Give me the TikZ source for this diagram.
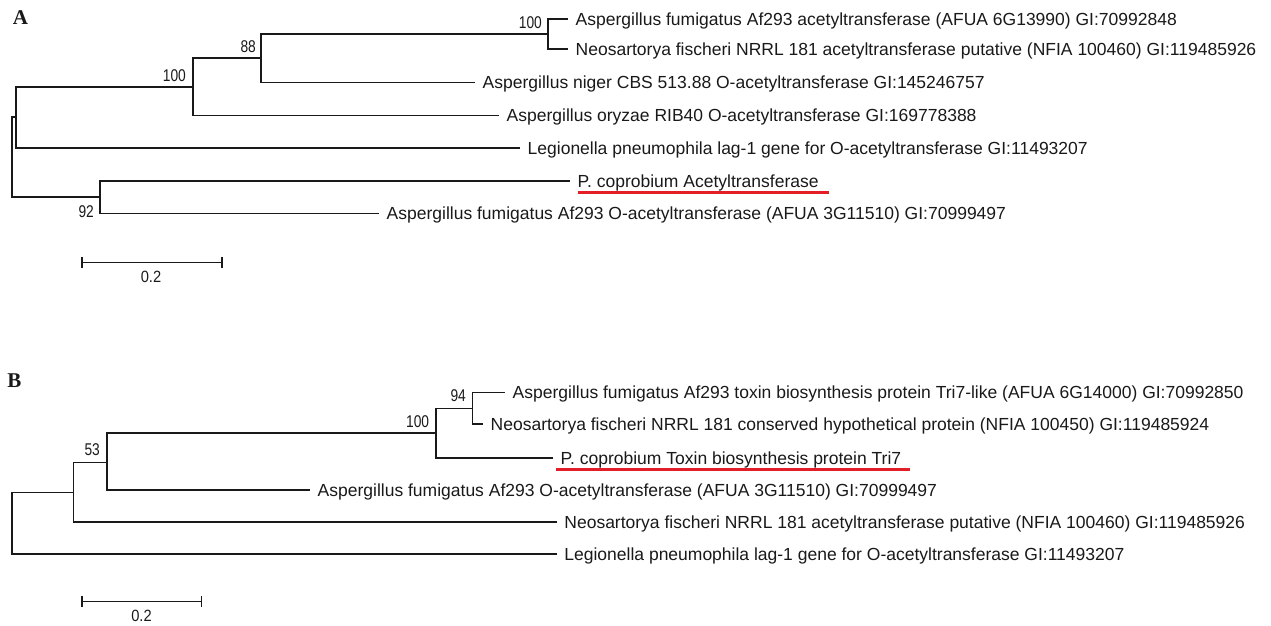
\documentclass[tikz,border=0pt]{standalone}
\usepackage{fontspec}
\setmainfont{Liberation Sans}
\newfontfamily\panelfont{Liberation Serif}
\usetikzlibrary{arrows.meta}
\definecolor{ulred}{RGB}{228,30,38}
\definecolor{ink}{RGB}{25,25,25}
\begin{document}
\begin{tikzpicture}[x=1pt,y=-1pt,
  br/.style={line width=1.5pt, draw=ink},
  leaf/.style={anchor=west, text=ink, font=\fontsize{17.5pt}{20pt}\selectfont, inner xsep=7.5pt, inner ysep=0pt, text height=12.6pt, text depth=0pt},
  boot/.style={anchor=base east, text=ink, font=\fontsize{17pt}{19pt}\selectfont, inner sep=0pt, xscale=0.81},
  panel/.style={text=ink, font=\panelfont\bfseries\fontsize{21pt}{24pt}\selectfont, inner sep=0pt},
  uline/.style={draw=ulred, line width=2.6pt},
  sbar/.style={line width=1.5pt, draw=ink, {Bar[width=11pt]}-{Bar[width=11pt]}},
  sblab/.style={text=ink, font=\fontsize{16.3pt}{18pt}\selectfont, inner sep=0pt, xscale=0.9}
]
\useasboundingbox (0,0) rectangle (1271,625);

% ---------------- Panel A ----------------
\node[panel] (pA) at (20.5,17.5) {A};

\coordinate (rA) at (12,157);
\coordinate (a1n) at (16,117);
\coordinate (a2n) at (193,87);
\coordinate (a3n) at (261,58);
\coordinate (a4n) at (548,34);
\coordinate (a5n) at (100,197);

\node[leaf] (lA1) at (568,19) {Aspergillus fumigatus Af293 acetyltransferase (AFUA 6G13990) GI:70992848};
\node[leaf] (lA2) at (568,49) {Neosartorya fischeri NRRL 181 acetyltransferase putative (NFIA 100460) GI:119485926};
\node[leaf] (lA3) at (475,82.5) {Aspergillus niger CBS 513.88 O-acetyltransferase GI:145246757};
\node[leaf] (lA4) at (499,115.5) {Aspergillus oryzae RIB40 O-acetyltransferase GI:169778388};
\node[leaf] (lA5) at (520,148) {Legionella pneumophila lag-1 gene for O-acetyltransferase GI:11493207};
\node[leaf] (lA6) at (570,181) {P. coprobium Acetyltransferase};
\node[leaf] (lA7) at (379,213.5) {Aspergillus fumigatus Af293 O-acetyltransferase (AFUA 3G11510) GI:70999497};

\draw[br] (rA) |- (a1n);
\draw[br] (rA) |- (a5n);
\draw[br] (a1n) |- (a2n);
\draw[br] (a1n) |- (lA5.west);
\draw[br] (a2n) |- (a3n);
\draw[br] (a2n) |- (lA4.west);
\draw[br] (a3n) |- (a4n);
\draw[br] (a3n) |- (lA3.west);
\draw[br] (a4n) |- (lA1.west);
\draw[br] (a4n) |- (lA2.west);
\draw[br] (a5n) |- (lA6.west);
\draw[br] (a5n) |- (lA7.west);

\node[boot] (bA4) at ([xshift=-6pt,yshift=5.5pt]a4n) {100};
\node[boot] (bA3) at ([xshift=-5pt,yshift=5.5pt]a3n) {88};
\node[boot] (bA2) at ([xshift=-7pt,yshift=5.5pt]a2n) {100};
\node[boot] (bA5) at ([xshift=-6pt,yshift=-20.5pt]a5n) {92};

\draw[uline] ([xshift=7.5pt,yshift=-11.7pt]lA6.west) -- ([xshift=3pt,yshift=-11.7pt]lA6.east);

\coordinate (sA1) at (81,262.3);
\coordinate (sA2) at (222.5,262.3);
\draw[sbar] (sA1) -- (sA2);
\node[sblab] (sAl) at (151,276.7) {0.2};

% ---------------- Panel B ----------------
\node[panel] (pB) at (14.5,381) {B};

\coordinate (rB) at (12,523.5);
\coordinate (b1n) at (73.5,492.7);
\coordinate (b2n) at (107,462.7);
\coordinate (b3n) at (436,433);
\coordinate (b4n) at (472.7,408.3);

\node[leaf] (lB1) at (505,392.5) {Aspergillus fumigatus Af293 toxin biosynthesis protein Tri7-like (AFUA 6G14000) GI:70992850};
\node[leaf] (lB2) at (483,424) {Neosartorya fischeri NRRL 181 conserved hypothetical protein (NFIA 100450) GI:119485924};
\node[leaf] (lB3) at (553,458) {P. coprobium Toxin biosynthesis protein Tri7};
\node[leaf] (lB4) at (310,490) {Aspergillus fumigatus Af293 O-acetyltransferase (AFUA 3G11510) GI:70999497};
\node[leaf] (lB5) at (556.7,522) {Neosartorya fischeri NRRL 181 acetyltransferase putative (NFIA 100460) GI:119485926};
\node[leaf] (lB6) at (556.7,554) {Legionella pneumophila lag-1 gene for O-acetyltransferase GI:11493207};

\draw[br] (rB) |- (b1n);
\draw[br] (rB) |- (lB6.west);
\draw[br] (b1n) |- (b2n);
\draw[br] (b1n) |- (lB5.west);
\draw[br] (b2n) |- (b3n);
\draw[br] (b2n) |- (lB4.west);
\draw[br] (b3n) |- (b4n);
\draw[br] (b3n) |- (lB3.west);
\draw[br] (b4n) |- (lB1.west);
\draw[br] (b4n) |- (lB2.west);

\node[boot] (bB4) at ([xshift=-6.7pt,yshift=6.5pt]b4n) {94};
\node[boot] (bB3) at ([xshift=-6.7pt,yshift=5.5pt]b3n) {100};
\node[boot] (bB2) at ([xshift=-7pt,yshift=7pt]b2n) {53};

\draw[uline] ([xshift=3pt,yshift=-11.3pt]lB3.west) -- ([xshift=1pt,yshift=-11.3pt]lB3.east);

\coordinate (sB1) at (81,601.7);
\coordinate (sB2) at (202,601.7);
\draw[sbar] (sB1) -- (sB2);
\node[sblab] (sBl) at (141.5,616) {0.2};
\end{tikzpicture}
\end{document}
